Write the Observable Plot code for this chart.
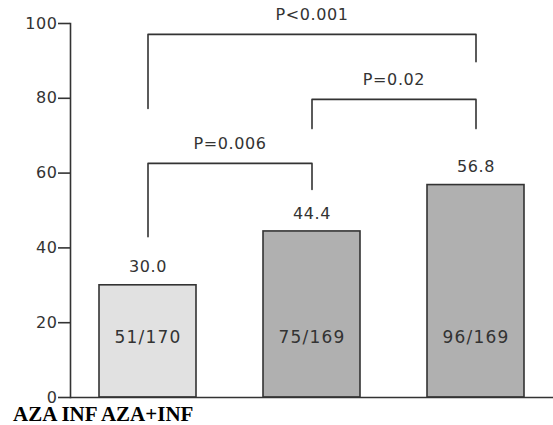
<!DOCTYPE html>
<html>
<head>
<meta charset="utf-8">
<script src="https://cdn.jsdelivr.net/npm/d3@7"></script>
<script src="https://cdn.jsdelivr.net/npm/@observablehq/plot@0.6"></script>
<style>
  html, body { margin: 0; padding: 0; background: #fff; }
  #chart svg text { letter-spacing: 0.6px; }
  #chart svg g.counts text { letter-spacing: 1.2px; }
  #caption { font-family: "Liberation Serif", "Times New Roman", serif; font-weight: bold; font-size: 21px; line-height: 19px; padding-left: 13px; margin-top: 5px; color: #000; white-space: nowrap; }
</style>
</head>
<body>
<div id="chart"></div>
<div id="caption"></div>
<script>
// Data
const categories = ["AZA", "INF", "AZA+INF"];
const values = [30.0, 44.4, 56.8];
const valueLabels = ["30.0", "44.4", "56.8"];
const counts = ["51/170", "75/169", "96/169"];
const fills = ["#e1e1e1", "#b0b0b0", "#b0b0b0"];
const yTicks = [0, 20, 40, 60, 80, 100];

// Significance brackets
const bracketLabels = ["P<0.001", "P=0.02", "P=0.006"];
const bracketFrom = ["AZA", "INF", "AZA"];
const bracketTo = ["AZA+INF", "AZA+INF", "INF"];
const bracketTop = [97.1, 79.7, 62.6];
const bracketLeftEnd = [77.3, 71.9, 43.0];
const bracketRightEnd = [89.8, 71.9, 55.6];

const bars = categories.map((c, i) => ({cat: c, value: values[i], label: valueLabels[i], count: counts[i], fill: fills[i]}));

const bracketPoints = [];
const bracketText = [];
bracketLabels.forEach((lab, i) => {
  bracketPoints.push({b: lab, x: bracketFrom[i], y: bracketLeftEnd[i]});
  bracketPoints.push({b: lab, x: bracketFrom[i], y: bracketTop[i]});
  bracketPoints.push({b: lab, x: bracketTo[i], y: bracketTop[i]});
  bracketPoints.push({b: lab, x: bracketTo[i], y: bracketRightEnd[i]});
  bracketText.push({b: lab, from: bracketFrom[i], to: bracketTo[i], y: bracketTop[i]});
});

const ink = "#333";

const chart = Plot.plot({
  width: 553,
  height: 400,
  marginLeft: 70,
  marginRight: 0,
  marginTop: 23,
  marginBottom: 3,
  style: {fontFamily: "DejaVu Sans, Verdana, sans-serif", fontSize: "16px", color: ink, background: "#fff", overflow: "visible"},
  x: {type: "band", domain: categories, paddingInner: 0.41, paddingOuter: 0.1735, axis: null},
  y: {domain: [0, 100], axis: null},
  marks: [
    Plot.barY(bars, {x: "cat", y: "value", fill: "fill", stroke: ink, strokeWidth: 1.6}),
    Plot.ruleY([0], {stroke: ink, strokeWidth: 1.6}),
    Plot.frame({anchor: "left", stroke: ink, strokeWidth: 1.6}),
    Plot.axisY({ticks: yTicks, tickSize: 12, tickPadding: 1, stroke: ink, strokeWidth: 1.6, strokeOpacity: 1, fill: "#333", fontSize: 16, tickFormat: d => String(d)}),
    Plot.text(bars, {x: "cat", y: "value", text: "label", dy: -18, lineAnchor: "middle", fill: "#333", fontSize: 16}),
    Plot.text(bars, {x: "cat", frameAnchor: "bottom", dy: -60, text: "count", lineAnchor: "middle", fill: "#333", fontSize: 17, className: "counts"}),
    Plot.line(bracketPoints, {x: "x", y: "y", z: "b", stroke: ink, strokeWidth: 1.6, curve: "linear"}),
    Plot.text(bracketText, {
      x: "from", y: "y", text: "b", lineAnchor: "middle", dy: -14, fill: "#333", fontSize: 16,
      render(index, scales, values, dims, context, next) {
        // center each label between its bracket's two feet (group transform already adds band offset and dy)
        const g = next(index, scales, values, dims, context);
        d3.select(g).selectAll("text").each(function(_, j) {
          const d = bracketText[index[j]];
          const cx = (scales.x(d.from) + scales.x(d.to)) / 2;
          d3.select(this).attr("transform", null).attr("x", cx).attr("y", scales.y(d.y));
        });
        return g;
      }
    })
  ]
});
chart.querySelectorAll("g").forEach(g => { if (g.getAttribute("aria-label") === "text" && g.textContent.includes("/")) g.classList.add("counts"); });
document.getElementById("chart").appendChild(chart);
document.getElementById("caption").textContent = categories.join(" ");
</script>
</body>
</html>
